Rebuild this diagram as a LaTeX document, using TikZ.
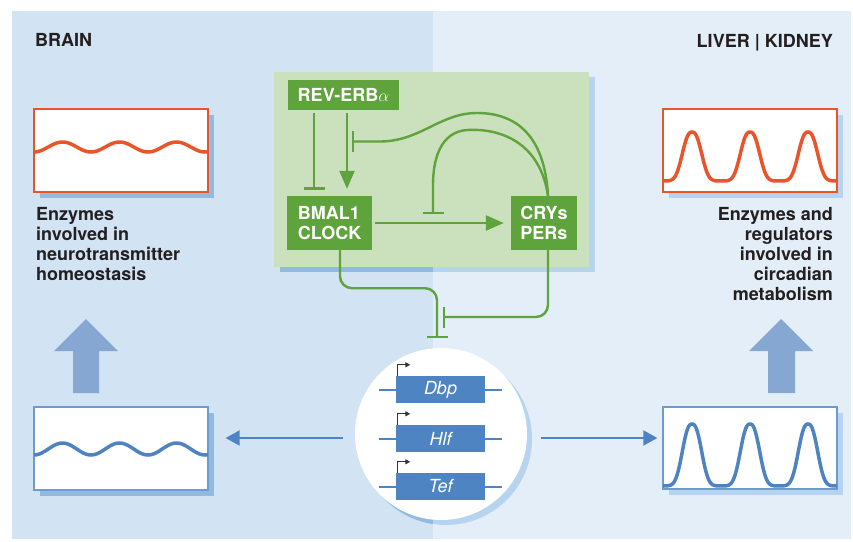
\documentclass[tikz,border=0pt]{standalone}
\usepackage{fontspec}
\setmainfont{TeX Gyre Heros}
\usetikzlibrary{arrows.meta}

\definecolor{brainbg}{HTML}{D2E3F3}
\definecolor{liverbg}{HTML}{E4EEF8}
\definecolor{loopbg}{HTML}{CBE0BD}
\definecolor{clockgreen}{HTML}{5EA33B}
\definecolor{shadowL}{HTML}{90BAE0}
\definecolor{shadowR}{HTML}{B6D4EF}
\definecolor{waveorange}{HTML}{E9552B}
\definecolor{waveblue}{HTML}{4F82C0}
\definecolor{frameblue}{HTML}{6D9BD0}
\definecolor{geneblue}{HTML}{4E84C1}
\definecolor{upblue}{HTML}{87A7D3}
\definecolor{textgrey}{HTML}{231F20}

\tikzset{
  title/.style={text=textgrey, font=\bfseries\fontsize{18}{20}\selectfont, inner sep=0pt},
  loopbox/.style={fill=clockgreen, text=white, font=\bfseries\fontsize{18}{20}\selectfont, inner sep=0pt, align=left},
  link/.style={clockgreen, line width=2.4pt},
  inhib/.style={link, -{Bar[width=21pt]}},
  activ/.style={link, -{Triangle[length=18pt,width=15pt]}},
  genebox/.style={fill=geneblue, text=white, font=\itshape\fontsize{18}{20}\selectfont, minimum width=89pt, minimum height=27pt, inner sep=0pt},
  dna/.style={geneblue, line width=2pt},
  promoter/.style={black!80, line width=1pt, -{Triangle[length=5pt,width=5pt]}},
  plotbox/.style={fill=white, minimum width=174pt, minimum height=83pt, inner sep=0pt, line width=1.3pt},
  wave/.style={line width=3.5pt, line join=round},
  flow/.style={geneblue, line width=2pt, -{Triangle[length=14pt,width=15pt]}},
  uparrow/.style={fill=upblue}
}

\begin{document}
\begin{tikzpicture}[x=1pt,y=-1pt,
  declare function={bump(\t)=exp(-pow(min(abs(\t),3),2.5));
    peaks(\t)=bump((\t-692)/12)+bump((\t-750)/12)+bump((\t-808)/12);}]
% fixed frame
\useasboundingbox (0,0) rectangle (853,541);
% the two tissue panels
\fill[brainbg] (12,11) rectangle (433,539);
\fill[liverbg] (433,11) rectangle (851,539);
\node[title, anchor=base west] (brain) at (35,46) {BRAIN};
\node[title, anchor=base east] (liver) at (833,47) {LIVER | KIDNEY};

% clock loop panel and its shadow
\fill[shadowL] (280,77) rectangle (433,272);
\fill[shadowR] (433,77) rectangle (595,272);
\fill[loopbg] (274,72) rectangle (589,267);
\node[loopbox, minimum width=111pt, minimum height=30pt] (rev) at (343.5,95) {REV-ERB$\alpha$};
\node[loopbox, minimum width=85pt, minimum height=54pt] (bmal) at (329.5,223) {BMAL1\\CLOCK};
\node[loopbox, minimum width=66pt, minimum height=54pt] (crys) at (544,223) {CRYs\\PERs};

% REV-ERBa onto BMAL1/CLOCK
\coordinate (revL) at ([xshift=-29.5pt]rev.south);
\coordinate (revR) at ([xshift=3.5pt]rev.south);
\draw[inhib, shorten <=3pt, shorten >=6pt] (revL) -- (revL |- bmal.north);
\draw[activ, shorten <=3pt, shorten >=7pt] (revR) -- (revR |- bmal.north);
\draw[activ, shorten <=3pt, shorten >=7pt] (bmal.east) -- (crys.west);

% CRYs/PERs feedback
\coordinate (crysN) at ([xshift=4pt]crys.north);
\coordinate (revbar) at (352,141.5);
\coordinate (loopbar) at (433,214);
\draw[inhib] (crysN) .. controls (545,140) and (520,113) .. (477,113)
  .. controls (440,113) and (420,141.5) .. (380,141.5) -- (revbar);
\draw[inhib] (crysN) .. controls (540,142) and (500,128) .. (467,130)
  .. controls (440,132) and (433,160) .. (433,185) -- (loopbar);

% output onto the clock-controlled genes
\coordinate (gtop) at (437,338);
\coordinate (gside) at (443,317);
\draw[inhib, rounded corners=12pt] ([xshift=10.5pt]bmal.south) -- ++(0,38) -| (gtop);
\draw[inhib, rounded corners=12pt] ([xshift=4pt]crys.south) |- (gside);

% gene circle with shadow
\begin{scope}
  \clip (12,11) rectangle (433,539);
  \fill[shadowL] (446,439) circle (86pt);
\end{scope}
\begin{scope}
  \clip (433,11) rectangle (851,539);
  \fill[shadowR] (446,439) circle (86pt);
\end{scope}
\node[circle, fill=white, minimum size=172pt, inner sep=0pt] (genes) at (441,434) {};
\foreach \g/\y in {Dbp/389.5, Hlf/438.5, Tef/486.5} {
  \node[genebox] (\g) at (440.5,\y) {\g};
  \draw[dna] ([xshift=-17pt]\g.west) -- (\g.west);
  \draw[dna] (\g.east) -- ([xshift=17pt]\g.east);
  \draw[promoter] ([xshift=1.5pt]\g.north west) -- ++(0,-11) -- ++(13,0);
}

% brain: low amplitude rhythms
\fill[shadowL] (40,115) rectangle (214,198);
\node[plotbox, draw=waveorange] (brainTop) at (121,150.5) {};
\draw[wave, waveorange] plot[domain=34:208, samples=120] (\x,{147+5*cos(6.3158*(\x-34))});
\node[title, anchor=north west, align=left] (brainText) at (36,207.5)
  {Enzymes\\involved in\\neurotransmitter\\homeostasis};
\fill[uparrow] (73,393) -- (73,351) -- (54,351) -- (86,319) -- (118,351) -- (99,351) -- (99,393) -- cycle;
\fill[shadowL] (40,413) rectangle (214,496);
\node[plotbox, draw=frameblue] (brainBot) at (121,448.5) {};
\draw[wave, waveblue] plot[domain=34:208, samples=120] (\x,{449+6*cos(6.3158*(\x-34))});

% liver and kidney: high amplitude rhythms
\fill[shadowR] (669,115) rectangle (843,198);
\node[plotbox, draw=waveorange] (liverTop) at (750,150.5) {};
\draw[wave, waveorange] plot[domain=663:837, samples=240] (\x,{181-49*peaks(\x)});
\node[title, anchor=north east, align=right] (liverText) at (833,207.5)
  {Enzymes and\\regulators\\involved in\\circadian\\metabolism};
\fill[uparrow] (768,393) -- (768,351) -- (749,351) -- (781,319) -- (813,351) -- (795,351) -- (795,393) -- cycle;
\fill[shadowR] (669,413) rectangle (843,495);
\node[plotbox, draw=frameblue, minimum height=82pt] (liverBot) at (750,448) {};
\draw[wave, waveblue] plot[domain=663:837, samples=240] (\x,{486-62*peaks(\x)});

% from the genes to both tissues
\coordinate (leftStart) at ([xshift=-12pt,yshift=-4pt]genes.west);
\coordinate (rightStart) at ([xshift=14pt,yshift=-4pt]genes.east);
\draw[flow, shorten >=17pt] (leftStart) -- (leftStart -| brainBot.east);
\draw[flow, shorten >=5pt] (rightStart) -- (rightStart -| liverBot.west);
\end{tikzpicture}
\end{document}
